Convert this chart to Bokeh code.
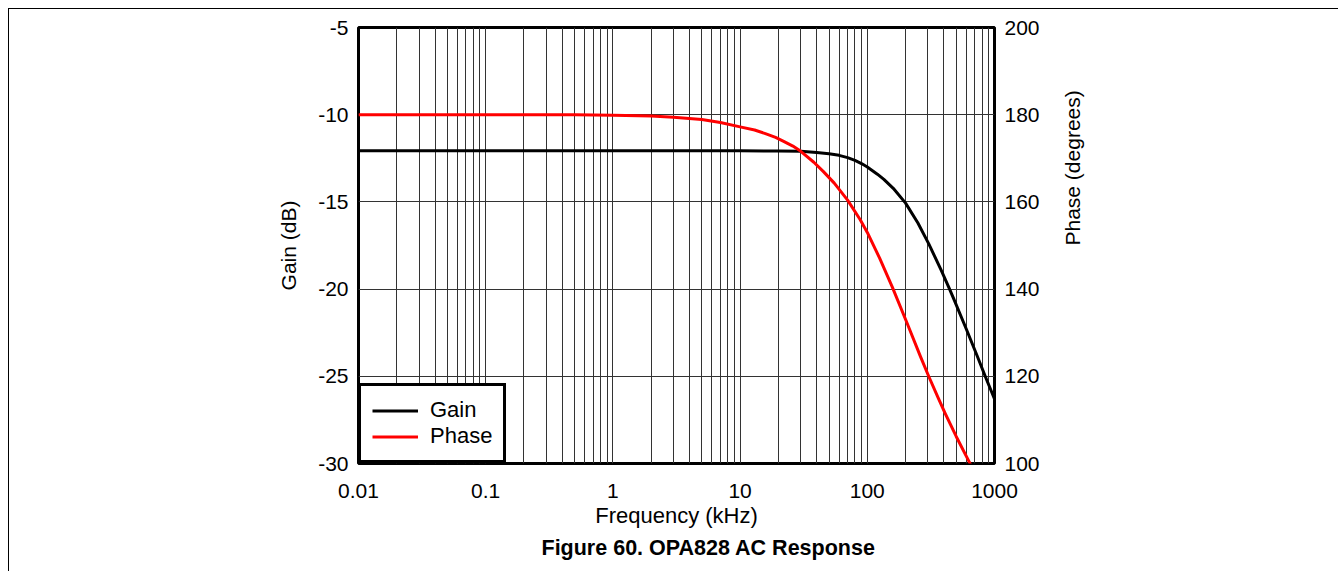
import math
from bokeh.plotting import figure
from bokeh.models import (Range1d, LinearAxis, FixedTicker, Title, Legend,
                          LegendItem)
from bokeh.embed import file_html
from bokeh.resources import INLINE

# ---- data ----
freq_gain_khz = [0.01, 0.1, 1, 10, 20, 30, 40, 50, 60, 70, 80, 90, 100, 120, 135,
                 160, 200, 250, 305, 380, 440, 480, 600, 730, 850, 1000]
gain_db = [-12.07, -12.07, -12.07, -12.07, -12.08, -12.1, -12.17, -12.24, -12.33,
           -12.46, -12.62, -12.8, -13.0, -13.41, -13.71, -14.22, -15.07, -16.21,
           -17.42, -18.9, -19.95, -20.59, -22.29, -23.82, -25.04, -26.3]

freq_phase_khz = [0.01, 0.1, 0.5, 1, 2, 3, 5, 7, 10, 13, 16, 19, 22, 26, 30, 38,
                  45, 55, 70, 88, 100, 125, 157, 206, 262, 305, 360, 411, 500,
                  640, 650]
phase_deg = [180, 180, 180, 179.9, 179.7, 179.4, 178.9, 178.2, 177.2, 176.5,
             175.6, 174.8, 173.9, 172.8, 171.6, 169.1, 167.0, 164.3, 160.4,
             155.9, 153.0, 147.1, 140.5, 132.1, 124.5, 119.9, 115.1, 111.4,
             106.2, 100.1, 99.6]

x_ticks = [0.01, 0.1, 1, 10, 100, 1000]
x_tick_labels = ["0.01", "0.1", "1", "10", "100", "1000"]
gain_ticks = [-30, -25, -20, -15, -10, -5]
gain_tick_labels = ["-30", "-25", "-20", "-15", "-10", "-5"]
phase_ticks = [100, 120, 140, 160, 180, 200]
phase_tick_labels = ["100", "120", "140", "160", "180", "200"]

FONT = "Liberation Sans"
GRID = "#333333"

p = figure(width=1332, height=563, x_axis_type="log",
           x_range=Range1d(0.01, 1000), y_range=Range1d(-30, -5),
           output_backend="svg", toolbar_location=None,
           min_border_left=349, min_border_right=347,
           min_border_top=18, min_border_bottom=109)
p.styles = {"margin-left": "9px", "margin-top": "9px",
            "box-shadow": "-1px -1px 0px 0px #000",
            "clip-path": "inset(-2px 3px -2px -2px)"}
p.extra_y_ranges = {"phase": Range1d(100, 200)}
p.border_fill_color = "white"

p.outline_line_color = "black"
p.outline_line_width = 3
p.outline_line_alpha = 1

# grids
minor_x = []
for d in [0.01, 0.1, 1, 10, 100]:
    for k in range(1, 10):
        minor_x.append(d * k)
minor_x.append(1000)
p.xgrid.ticker = FixedTicker(ticks=minor_x)
p.xgrid.grid_line_color = GRID
p.xgrid.grid_line_width = 1
p.ygrid.ticker = FixedTicker(ticks=gain_ticks)
p.ygrid.grid_line_color = GRID
p.ygrid.grid_line_width = 1

def style_axis(ax, label, standoff, lab_standoff, lab_size="21px"):
    ax.axis_label = label
    ax.axis_line_color = None
    ax.major_tick_line_color = None
    ax.minor_tick_line_color = None
    ax.major_tick_out = 0
    ax.minor_tick_out = 0
    ax.major_tick_in = 0
    ax.minor_tick_in = 0
    ax.major_label_text_font = FONT
    ax.major_label_text_font_size = "21px"
    ax.major_label_text_color = "black"
    ax.axis_label_text_font = FONT
    ax.axis_label_text_font_size = lab_size
    ax.axis_label_text_font_style = "normal"
    ax.axis_label_text_color = "black"
    ax.major_label_standoff = standoff
    ax.axis_label_standoff = lab_standoff

xa = p.xaxis[0]
xa.ticker = FixedTicker(ticks=x_ticks)
xa.major_label_overrides = {t: l for t, l in zip(x_ticks, x_tick_labels)}
style_axis(xa, "Frequency (kHz)", 20, 2, "22px")

ya = p.yaxis[0]
ya.ticker = FixedTicker(ticks=gain_ticks)
ya.major_label_overrides = {t: l for t, l in zip(gain_ticks, gain_tick_labels)}
style_axis(ya, "Gain (dB)", 10, 15)

ra = LinearAxis(y_range_name="phase", ticker=FixedTicker(ticks=phase_ticks))
ra.major_label_overrides = {t: l for t, l in zip(phase_ticks, phase_tick_labels)}
style_axis(ra, "Phase (degrees)", 10, 30)
ra.axis_label_orientation = math.pi / 2
p.add_layout(ra, "right")

g = p.line(freq_gain_khz, gain_db, line_color="black", line_width=3,
           line_join="round")
ph = p.line(freq_phase_khz, phase_deg, line_color="#ff0000", line_width=3,
            line_join="round", y_range_name="phase")

legend = Legend(items=[LegendItem(label="Gain", renderers=[g]),
                       LegendItem(label="Phase", renderers=[ph])],
                location="bottom_left", margin=0, padding=11, spacing=0,
                label_height=23, glyph_height=23, glyph_width=46,
                label_standoff=12, border_line_color="black",
                border_line_width=3, border_line_alpha=1,
                background_fill_color="white", background_fill_alpha=1,
                label_text_font=FONT, label_text_font_size="22px",
                label_text_color="black")
p.add_layout(legend)

cap = Title(text="Figure 60. OPA828 AC Response", align="left", offset=183,
            text_font=FONT, text_font_size="21.5px", text_font_style="bold",
            text_color="black", standoff=7)
p.add_layout(cap, "below")

open("out.html", "w").write(file_html(p, INLINE))
